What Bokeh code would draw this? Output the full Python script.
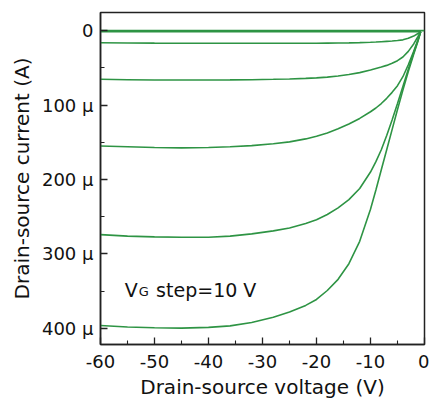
from bokeh.plotting import figure
from bokeh.models import Range1d, FixedTicker, Label
from bokeh.embed import file_html
from bokeh.resources import INLINE

# Drain-source voltage grid (V)
vds = [-60, -55, -50, -45, -40, -36, -32, -28, -25, -22, -20, -18, -16, -14,
       -12, -10, -9, -8, -7, -6, -5, -4, -3, -2, -1.2, -0.7]

# Drain-source current (uA) per gate-voltage step
i_vg0_v = [-60, 0]
i_vg0 = [0, 0]
i_vg1 = [1.5, 1.5, 1.5, 1.5, 1.5, 1.5, 1.5, 1.5, 1.5, 1.5, 1.5, 1.5, 1.5,
         1.5, 1.5, 1.5, 1.5, 1.5, 1.5, 1.5, 1.5, 1.5, 1.5, 1.5, 1.5, 1.5]
i_vg2 = [16.5, 16.7, 16.9, 17, 17, 17, 17, 17, 17, 17, 17, 16.9, 16.8, 16.6,
         16.3, 15.8, 15.5, 15, 14.5, 14, 13.3, 12.5, 10.5, 7.5, 4, 1.5]
i_vg3 = [65.5, 66, 66.5, 66.5, 66.5, 66.3, 66, 65.5, 65, 64.3, 63.5, 62.5, 61,
         59, 56.5, 53, 51, 49, 46.8, 44, 40.5, 35.5, 28, 18, 8, 1.5]
i_vg4 = [155, 156, 157, 157.5, 157, 156, 154.5, 152, 149.5, 145.5, 142, 137.5,
         132, 125.5, 118, 109, 104, 98, 91, 83, 74, 62, 46, 28, 12, 1.5]
i_vg5 = [274, 276, 277, 277.5, 277.5, 276, 273, 269, 265, 259, 254, 247, 238,
         227, 212, 190, 176, 160, 141, 120, 98, 75, 52, 30, 13, 1.5]
i_vg6 = [396, 398, 399, 399.5, 398.5, 396.5, 392, 385, 378, 369, 361, 349, 334,
         313, 283, 240, 214, 187, 160, 133, 106, 80, 55, 32, 14, 1.5]

x_ticks = [-60, -50, -40, -30, -20, -10, 0]
x_minor = [-55, -45, -35, -25, -15, -5]
x_labels = {-60: "-60", -50: "-50", -40: "-40", -30: "-30", -20: "-20",
            -10: "-10", 0: "0"}
y_ticks = [0, 100, 200, 300, 400]
y_minor = [50, 150, 250, 350]
y_labels = {0: "0", 100: "100 µ", 200: "200 µ", 300: "300 µ", 400: "400 µ"}

GREEN = "#2e9444"
FONT = "DejaVu Sans"

p = figure(width=429, height=403, output_backend="svg", toolbar_location=None,
           x_range=Range1d(-60, 0), y_range=Range1d(421.5, -24.2),
           min_border_left=100, min_border_right=5, min_border_top=12,
           min_border_bottom=59)
p.grid.visible = False
p.outline_line_color = "#222222"
p.outline_line_width = 1.5
p.background_fill_color = "white"
p.border_fill_color = "white"

for ax in (p.xaxis[0], p.yaxis[0]):
    ax.axis_line_color = "#222222"
    ax.axis_line_width = 1.5
    ax.major_tick_in = 7
    ax.major_tick_out = 0
    ax.minor_tick_in = 4
    ax.minor_tick_out = 0
    ax.major_tick_line_color = "#222222"
    ax.minor_tick_line_color = "#222222"
    ax.major_tick_line_width = 1.3
    ax.minor_tick_line_width = 1.1
    ax.major_label_text_font = FONT
    ax.major_label_text_font_size = "18px"
    ax.major_label_text_color = "#111111"
    ax.axis_label_text_font = FONT
    ax.axis_label_text_font_size = "20px"
    ax.axis_label_text_font_style = "normal"
    ax.axis_label_text_color = "#111111"

p.xaxis.ticker = FixedTicker(ticks=x_ticks, minor_ticks=x_minor)
p.yaxis.ticker = FixedTicker(ticks=y_ticks, minor_ticks=y_minor)
p.xaxis.major_label_overrides = x_labels
p.yaxis.major_label_overrides = y_labels
p.xaxis.axis_label = "Drain-source voltage (V)"
p.yaxis.axis_label = "Drain-source current (A)"
p.xaxis.major_label_standoff = 10
p.xaxis.axis_label_standoff = 4
p.yaxis.major_label_standoff = 7
p.yaxis.axis_label_standoff = 5

p.line(i_vg0_v, i_vg0, line_color=GREEN, line_width=1.8)
for cur in (i_vg1, i_vg2, i_vg3, i_vg4, i_vg5, i_vg6):
    p.line(vds, cur, line_color=GREEN, line_width=1.6)

p.add_layout(Label(x=-55.5, y=347.7, text="V", text_font=FONT,
                   text_font_size="19px", text_color="#111111",
                   text_baseline="alphabetic"))
p.add_layout(Label(x=-52.9, y=350.0, text="G", text_font=FONT,
                   text_font_size="13px", text_color="#111111",
                   text_baseline="alphabetic"))
p.add_layout(Label(x=-49.7, y=347.7, text="step=10 V", text_font=FONT,
                   text_font_size="19px", text_color="#111111",
                   text_baseline="alphabetic"))

open("out.html", "w").write(file_html(p, INLINE))
